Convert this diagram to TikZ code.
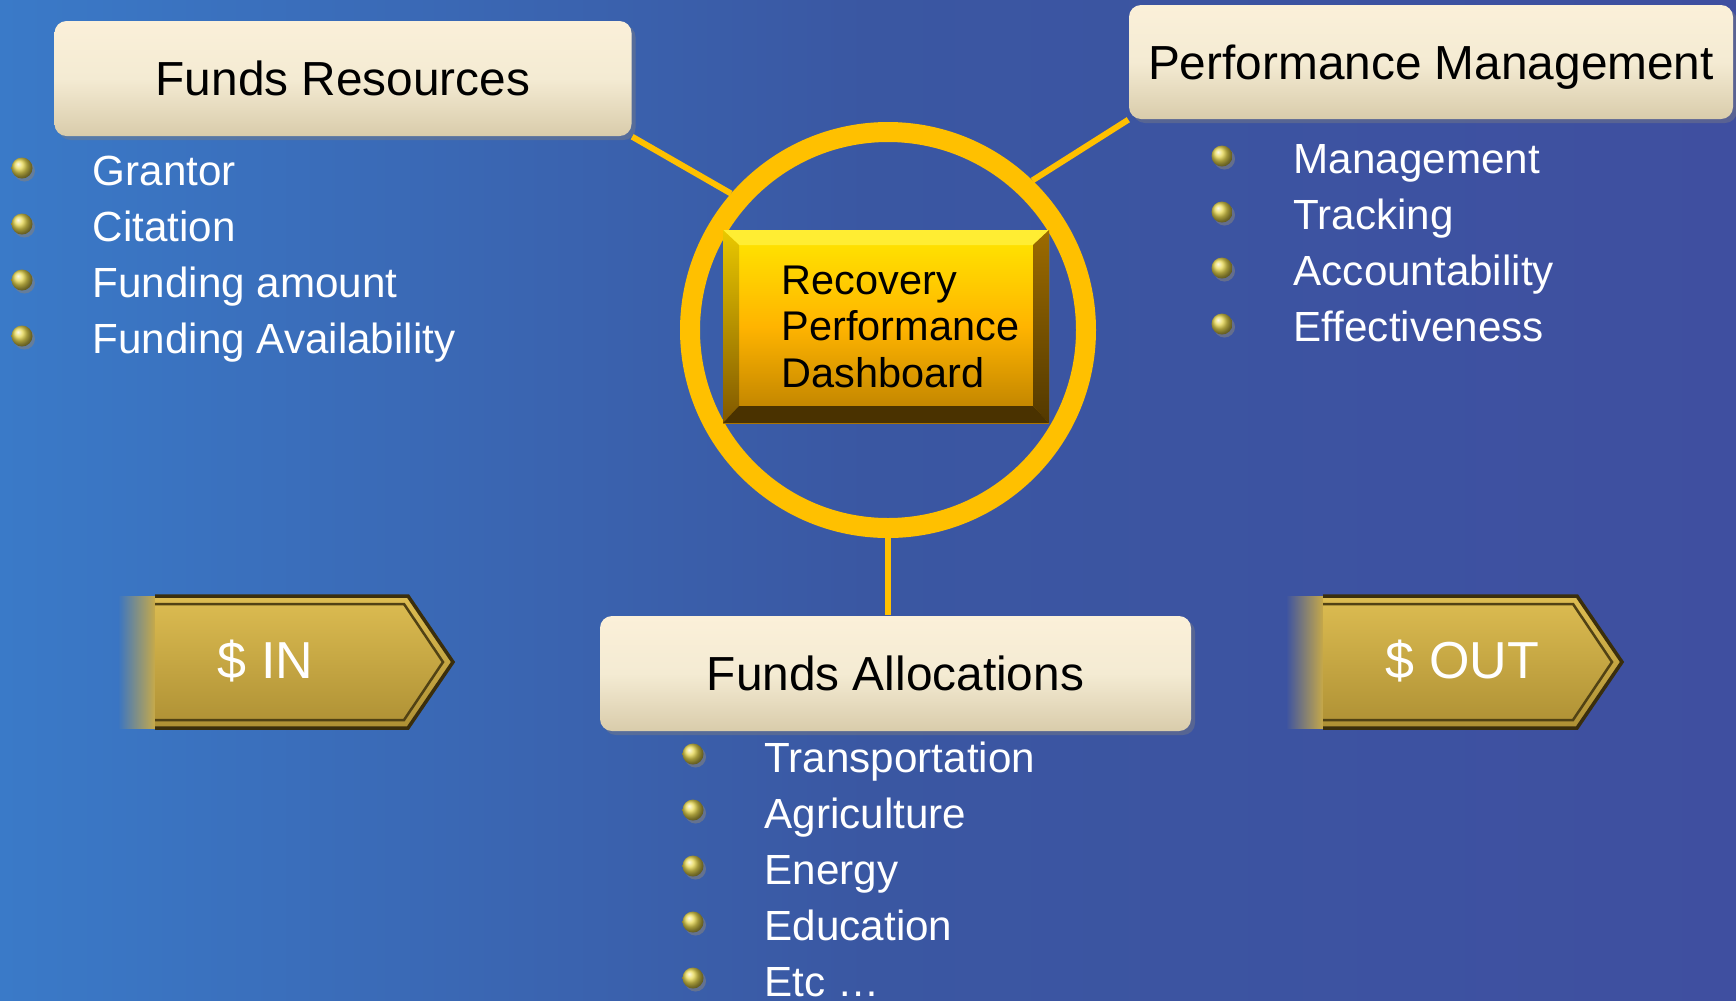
\documentclass[tikz,border=0pt]{standalone}
\usepackage{fontspec}
\setmainfont{Liberation Sans}
\usetikzlibrary{shadows}

\definecolor{bgleft}{HTML}{3A7AC8}
\definecolor{bgmid}{HTML}{3A57A2}
\definecolor{bgright}{HTML}{3F4FA0}
\definecolor{ringgold}{HTML}{FFC000}
\definecolor{creamtop}{HTML}{FBF0D9}
\definecolor{creammid}{HTML}{F4EBD3}
\definecolor{creambot}{HTML}{D9CCAB}
\definecolor{dashtop}{HTML}{FFE800}
\definecolor{dashmid}{HTML}{FFB400}
\definecolor{dashbot}{HTML}{B87E00}
\definecolor{arrowtop}{HTML}{DDBD52}
\definecolor{arrowbot}{HTML}{AE9034}
\definecolor{arrowedge}{HTML}{3A2E0C}
\definecolor{bulletgold}{HTML}{E8D850}

\begin{document}
\begin{tikzpicture}[x=0.1mm, y=-0.1mm,
  header/.style={rectangle, rounded corners=1.2mm, top color=creamtop, bottom color=creambot, middle color=creammid,
    inner sep=0pt, text height=9.74pt, text depth=0pt, font=\fontsize{13.6}{16}\selectfont,
    drop shadow={opacity=0.4, shadow xshift=0.4mm, shadow yshift=-0.4mm}},
  item/.style={anchor=base west, inner sep=0pt, text=white, font=\fontsize{12}{14}\selectfont},
  bullet/.style={circle, shade, ball color=bulletgold, minimum size=2.1mm, inner sep=0pt,
    drop shadow={opacity=0.6, shadow xshift=0.25mm, shadow yshift=-0.3mm}},
  link/.style={draw=ringgold, line width=0.6mm},
  dollar/.style={anchor=base west, inner sep=0pt, text=white, font=\fontsize{14.8}{17}\selectfont},
  arrowline/.style={draw=arrowedge!80!arrowbot, line width=0.25mm}]

  \useasboundingbox (0,0) rectangle (1736,1000);
  \shade[left color=bgleft, right color=bgright, middle color=bgmid] (0,0) rectangle (1736,1000);

  % Heading boxes
  \node[header, minimum width=57.7mm, minimum height=11.5mm] (res) at (343,78.5) {Funds Resources};
  \node[header, minimum width=60.4mm, minimum height=11.4mm] (perf) at (1431,62) {Performance Management};
  \node[header, minimum width=59.1mm, minimum height=11.5mm] (alloc) at (895.5,673.5) {Funds Allocations};

  % Ring and dashboard
  \node[circle, draw=ringgold, line width=2mm, minimum size=39.6mm, inner sep=0pt] (ring) at (888,330) {};
  \node[rectangle, top color=dashtop, bottom color=dashbot, middle color=dashmid,
    minimum width=32.6mm, minimum height=19.3mm, inner sep=0pt] (dash) at (886,326.5) {};
  \fill[dashtop!80!white] (723,230) -- (1049,230) -- (1033,245) -- (739,245) -- cycle;
  \shade[top color=dashtop!70!dashbot, bottom color=dashbot!70!black] (723,230) -- (739,245) -- (739,406) -- (723,423) -- cycle;
  \shade[top color=dashbot!85!black, bottom color=dashbot!45!black] (1049,230) -- (1049,423) -- (1033,406) -- (1033,245) -- cycle;
  \fill[dashbot!40!black] (723,423) -- (739,406) -- (1033,406) -- (1049,423) -- cycle;
  \node[anchor=west, align=left, inner sep=0pt, font=\fontsize{11.8}{13.2}\selectfont] (dashtext) at (781,326.7)
    {Recovery\\Performance\\Dashboard};

  % Links to the ring
  \draw[link] (res.south east) -- (ring.139);
  \draw[link] (perf.south west) -- (ring.46);
  \draw[link] (ring.south) -- (ring.south |- alloc.north);

  % Items under each heading
  \foreach \txt [count=\i] in {Grantor, Citation, Funding amount, Funding Availability} {
    \node[bullet] (resb\i) at (22, {168+(\i-1)*56}) {};
    \node[item] (resi\i) at (92, {185+(\i-1)*56}) {\txt};
  }
  \foreach \txt [count=\i] in {Management, Tracking, Accountability, Effectiveness} {
    \node[bullet] (perfb\i) at (1222, {156+(\i-1)*56}) {};
    \node[item] (perfi\i) at (1293, {173+(\i-1)*56}) {\txt};
  }
  \foreach \txt [count=\i] in {Transportation, Agriculture, Energy, Education, Etc \dots} {
    \node[bullet] (allocb\i) at (693, {754+(\i-1)*56}) {};
    \node[item] (alloci\i) at (764, {772+(\i-1)*56}) {\txt};
  }

  % Money in
  \shade[left color=bgleft!85!bgmid, right color=arrowtop!60!arrowbot] (118,596) rectangle (156,728);
  \shade[top color=arrowtop, bottom color=arrowbot, draw=arrowedge, line width=0.35mm]
    (155,596) -- (408,596) -- (453,662) -- (408,728) -- (155,728);
  \draw[arrowline] (155,604) -- (404,604) -- (443,662) -- (404,720) -- (155,720);
  \node[dollar] (moneyin) at (217,678) {\$ IN};

  % Money out
  \shade[left color=bgright!50!bgmid, right color=arrowtop!60!arrowbot] (1286,596) rectangle (1324,728);
  \shade[top color=arrowtop, bottom color=arrowbot, draw=arrowedge, line width=0.35mm]
    (1323,596) -- (1577,596) -- (1622,662) -- (1577,728) -- (1323,728);
  \draw[arrowline] (1323,604) -- (1573,604) -- (1612,662) -- (1573,720) -- (1323,720);
  \node[dollar] (moneyout) at (1385,678) {\$ OUT};
\end{tikzpicture}
\end{document}
